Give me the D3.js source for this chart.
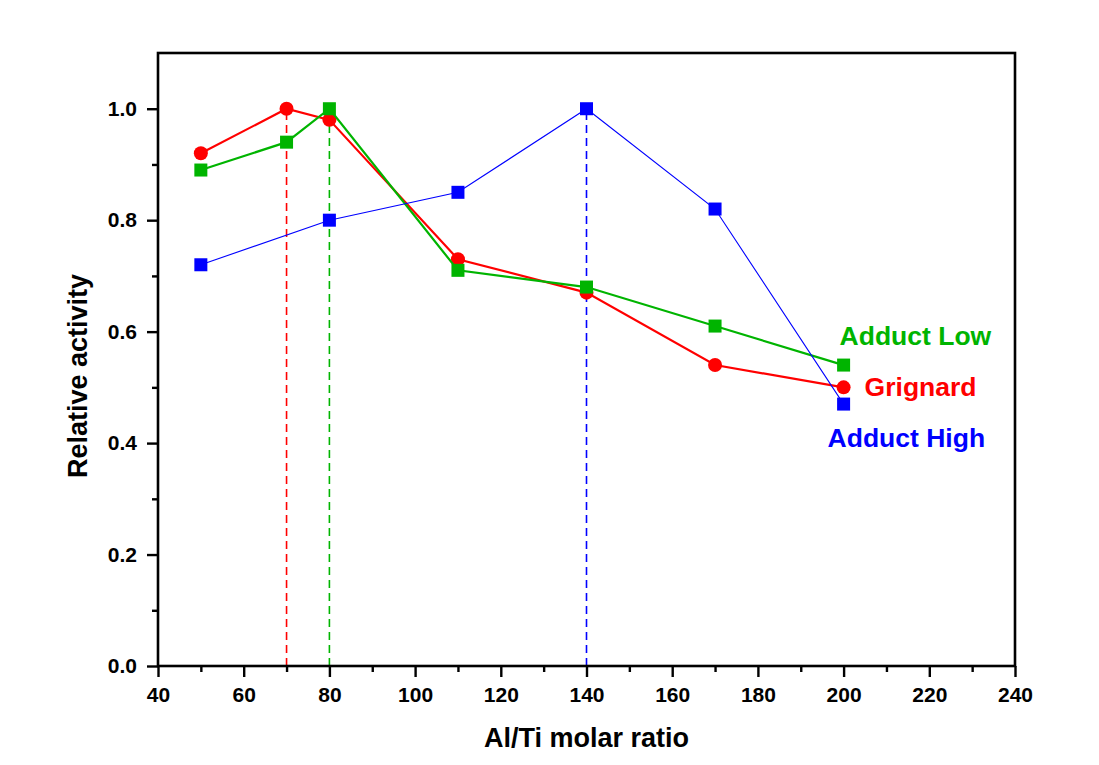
<!DOCTYPE html>
<html>
<head>
<meta charset="utf-8">
<script src="https://cdn.jsdelivr.net/npm/d3@7"></script>
<style>
  body { margin: 0; background: #fff; }
  svg text { font-family: "Liberation Sans", Arial, sans-serif; font-weight: bold; }
</style>
</head>
<body>
<div id="chart"></div>
<script>
// Al/Ti molar ratio values per series
const ratios = [50, 70, 80, 110, 140, 170, 200];
const ratiosHigh = [50, 80, 110, 140, 170, 200];

// relative activity
const grignard = [0.92, 1.00, 0.98, 0.73, 0.67, 0.54, 0.50];
const adductLow = [0.89, 0.94, 1.00, 0.71, 0.68, 0.61, 0.54];
const adductHigh = [0.72, 0.80, 0.85, 1.00, 0.82, 0.47];

// optimum ratio for each series (dashed drop lines)
const optimumRatios = [70, 80, 140];

const xTicks = [40, 60, 80, 100, 120, 140, 160, 180, 200, 220, 240];
const yTicks = [0.0, 0.2, 0.4, 0.6, 0.8, 1.0];

const width = 1099, height = 765;
const margin = {top: 53, right: 84, bottom: 99, left: 158};
const innerW = width - margin.left - margin.right;
const innerH = height - margin.top - margin.bottom;

const svg = d3.select("#chart").append("svg")
    .attr("width", width)
    .attr("height", height);

const g = svg.append("g")
    .attr("transform", "translate(" + margin.left + "," + margin.top + ")");

const x = d3.scaleLinear().domain([40, 240]).range([0, innerW]);
const y = d3.scaleLinear().domain([0, 1.1]).range([innerH, 0]);

const series = [
    {name: "Grignard", xs: ratios, ys: grignard, color: "#ff0000", width: 2.2, shape: "circle", dx: 21, dy: 9},
    {name: "Adduct Low", xs: ratios, ys: adductLow, color: "#00b400", width: 2.2, shape: "square", dx: -4, dy: -20},
    {name: "Adduct High", xs: ratiosHigh, ys: adductHigh, color: "#0000ff", width: 1.1, shape: "square", dx: -16, dy: 43}
];

// dashed drop lines from the maximum of each series
optimumRatios.forEach((r, i) => {
    let s = series[i];
    let yMax = d3.max(s.ys);
    g.append("line")
        .attr("x1", x(r)).attr("x2", x(r))
        .attr("y1", y(0)).attr("y2", y(yMax))
        .attr("stroke", s.color)
        .attr("stroke-width", 1.6)
        .attr("stroke-dasharray", "8,5");
});

// axes, major and minor ticks
const xAxis = d3.axisBottom(x).tickValues(xTicks).tickSize(11).tickSizeOuter(0).tickPadding(10)
    .tickFormat(d3.format("d"));
const xMinor = d3.axisBottom(x).tickValues(xTicks.slice(0, -1).map(d => d + 10)).tickSize(6).tickFormat("");
const yAxis = d3.axisLeft(y).tickValues(yTicks).tickSize(11).tickSizeOuter(0).tickPadding(10)
    .tickFormat(d3.format(".1f"));
const yMinor = d3.axisLeft(y).tickValues([0.1, 0.3, 0.5, 0.7, 0.9]).tickSize(6).tickFormat("");

[xAxis, xMinor].forEach(a => {
    g.append("g").attr("transform", "translate(0," + innerH + ")").call(a);
});
[yAxis, yMinor].forEach(a => {
    g.append("g").call(a);
});

g.selectAll(".domain").remove();
g.selectAll(".tick line").attr("stroke", "#000").attr("stroke-width", 2.4);
g.selectAll(".tick text").attr("fill", "#000").style("font-size", "21px");

// frame
g.append("rect")
    .attr("width", innerW).attr("height", innerH)
    .attr("fill", "none").attr("stroke", "#000").attr("stroke-width", 2.6);

// series lines and markers
series.forEach(s => {
    let pts = s.xs.map((d, i) => [d, s.ys[i]]);
    g.append("path")
        .datum(pts)
        .attr("fill", "none")
        .attr("stroke", s.color)
        .attr("stroke-width", s.width)
        .attr("d", d3.line().x(d => x(d[0])).y(d => y(d[1])));

    if (s.shape == "circle") {
        g.selectAll(null).data(pts).enter().append("circle")
            .attr("cx", d => x(d[0])).attr("cy", d => y(d[1]))
            .attr("r", 7)
            .attr("fill", s.color);
    } else {
        g.selectAll(null).data(pts).enter().append("rect")
            .attr("x", d => x(d[0]) - 6.5).attr("y", d => y(d[1]) - 6.5)
            .attr("width", 13).attr("height", 13)
            .attr("fill", s.color);
    }

    // series label next to the last point
    let last = pts[pts.length - 1];
    g.append("text")
        .attr("x", x(last[0]) + s.dx)
        .attr("y", y(last[1]) + s.dy)
        .attr("fill", s.color)
        .style("font-size", "26.5px")
        .text(s.name);
});

// axis titles
svg.append("text")
    .attr("x", margin.left + innerW / 2)
    .attr("y", 747)
    .attr("text-anchor", "middle")
    .style("font-size", "27px")
    .text("Al/Ti molar ratio");

svg.append("text")
    .attr("transform", "translate(87,376) rotate(-90)")
    .attr("text-anchor", "middle")
    .style("font-size", "27px")
    .text("Relative activity");
</script>
</body>
</html>
